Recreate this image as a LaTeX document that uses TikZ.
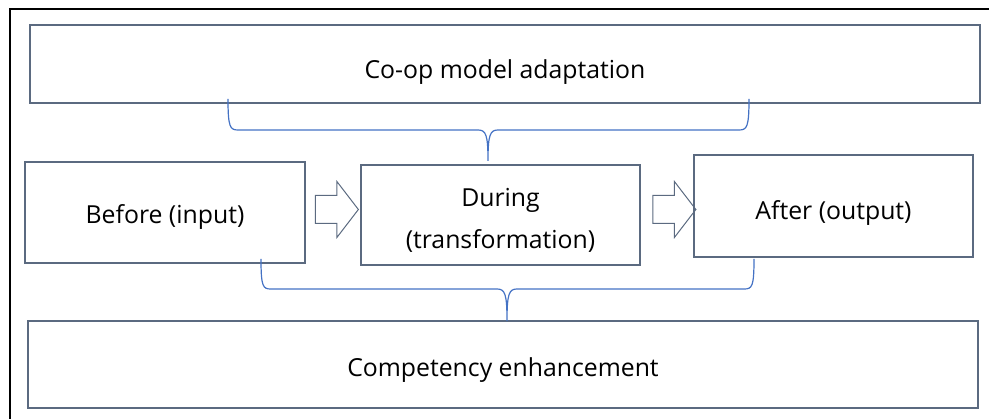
\documentclass[tikz,border=0pt]{standalone}
\usepackage{fontspec}
\setmainfont{Open Sans}
\usetikzlibrary{shapes.arrows,calc}

\definecolor{boxline}{HTML}{5B6A80}
\definecolor{bracecol}{HTML}{4472C4}

\tikzset{
  stagebox/.style={draw=boxline, line width=1.2pt, inner sep=0pt, align=center,
    font=\fontsize{24.8}{42}\selectfont, text depth=0pt},
  blockarrow/.style={single arrow, draw=boxline, line width=1pt, inner xsep=0pt,
    inner ysep=13.5pt, minimum height=43pt, single arrow head extend=14pt,
    single arrow tip angle=105, anchor=center},
  bracket/.style={draw=bracecol, line width=1.2pt}
}

\begin{document}
\begin{tikzpicture}[x=1pt,y=-1pt]
  \useasboundingbox (0,0) rectangle (989,419);
  % frame
  \draw[line width=2pt] (10,419) -- (10,9) -- (989,9);

  % boxes
  \node[stagebox, minimum width=950pt, minimum height=78pt, text height=29.5pt] (adapt) at (505,64) {Co-op model adaptation};
  \node[stagebox, minimum width=280pt, minimum height=101pt, text height=22.5pt] (before) at (165,212.5) {Before (input)};
  \node[stagebox, minimum width=279pt, minimum height=100pt, text height=67.5pt] (during) at (500.5,215) {During\\(transformation)};
  \node[stagebox, minimum width=279pt, minimum height=102pt, text height=27.5pt] (after) at (833.5,206) {After (output)};
  \node[stagebox, minimum width=950pt, minimum height=87pt, text height=24.5pt] (enhance) at (503,364.5) {Competency enhancement};

  % block arrows
  \node[blockarrow] (arrA) at (331.5,209.5) {};
  \node[blockarrow] (arrB) at (669,209.5) {};

  % top bracket
  \draw[bracket] (228,99) .. controls (228,127) and (230,130) .. (238,130) -- (478,130)
    .. controls (486,130) and (488,135) .. (488,161)
    .. controls (488,135) and (490,130) .. (498,130) -- (739,130)
    .. controls (747,130) and (749,127) .. (749,99);
  % bottom bracket
  \draw[bracket] (261,259) .. controls (261,287) and (263,289) .. (271,289) -- (497,289)
    .. controls (505,289) and (507,294) .. (507,321)
    .. controls (507,294) and (509,289) .. (517,289) -- (744,289)
    .. controls (752,289) and (754,287) .. (754,259);
\end{tikzpicture}
\end{document}
